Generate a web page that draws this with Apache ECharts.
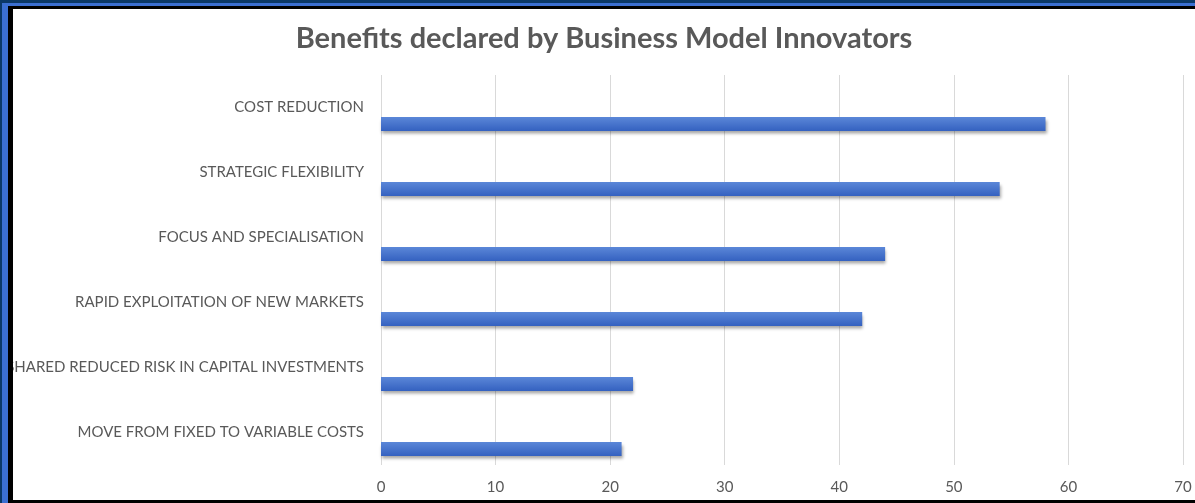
<!DOCTYPE html>
<html>
<head>
<meta charset="utf-8">
<script src="https://cdn.jsdelivr.net/npm/echarts@6/dist/echarts.min.js"></script>
<style>
  html, body { margin: 0; padding: 0; width: 1195px; height: 503px; overflow: hidden; background: #0b3866; }
  #blue { position: absolute; left: 2px; top: 3px; right: 0; bottom: 0; background: #3b6fd1; }
  #black { position: absolute; left: 8px; top: 6px; right: 0; bottom: 0; background: #000; }
  #chart { position: absolute; left: 13px; top: 9px; width: 1182px; height: 491px; background: #fff; overflow: hidden; }
</style>
</head>
<body>
<div id="blue"></div>
<div id="black"></div>
<div id="chart"></div>
<script>
const titleText = 'Benefits declared by Business Model Innovators';
const categories = [
  'COST REDUCTION',
  'STRATEGIC FLEXIBILITY',
  'FOCUS AND SPECIALISATION',
  'RAPID EXPLOITATION OF NEW MARKETS',
  'SHARED REDUCED RISK IN CAPITAL INVESTMENTS',
  'MOVE FROM FIXED TO VARIABLE COSTS'
];
const emptySeries = [0, 0, 0, 0, 0, 0];
const benefitValues = [58, 54, 44, 42, 22, 21];
const xTicks = { min: 0, max: 70, interval: 10 };

const chart = echarts.init(document.getElementById('chart'));
const textColor = '#595959';
const barStyle = {
  color: new echarts.graphic.LinearGradient(0, 0, 0, 1, [
    { offset: 0, color: '#5b87d8' },
    { offset: 1, color: '#3461c0' }
  ]),
  shadowColor: 'rgba(0,0,0,0.35)',
  shadowBlur: 3,
  shadowOffsetX: 1,
  shadowOffsetY: 3
};
chart.setOption({
  animation: false,
  backgroundColor: '#ffffff',
  title: {
    text: titleText,
    left: 'center',
    top: 10,
    textStyle: { fontFamily: 'Lato', fontWeight: 'bold', fontSize: 29, color: textColor }
  },
  grid: { left: 368, right: 12, top: 66, bottom: 35, containLabel: false, outerBoundsMode: 'none' },
  xAxis: {
    type: 'value',
    min: xTicks.min, max: xTicks.max, interval: xTicks.interval,
    axisLine: { show: false },
    axisTick: { show: false },
    splitLine: { show: true, lineStyle: { color: '#d9d9d9', width: 1 } },
    axisLabel: { color: textColor, fontFamily: 'Lato', fontSize: 15, margin: 15 }
  },
  yAxis: {
    type: 'category',
    data: categories,
    inverse: true,
    axisLine: { show: false },
    axisTick: { show: false },
    axisLabel: { color: textColor, fontFamily: 'Lato', fontSize: 15, margin: 17 }
  },
  series: [
    {
      type: 'bar', name: 'blank', data: emptySeries,
      barWidth: 14, barGap: '136%',
      itemStyle: barStyle
    },
    {
      type: 'bar', name: 'Benefits', data: benefitValues,
      barWidth: 14, barGap: '136%',
      itemStyle: barStyle
    }
  ]
});
</script>
</body>
</html>
